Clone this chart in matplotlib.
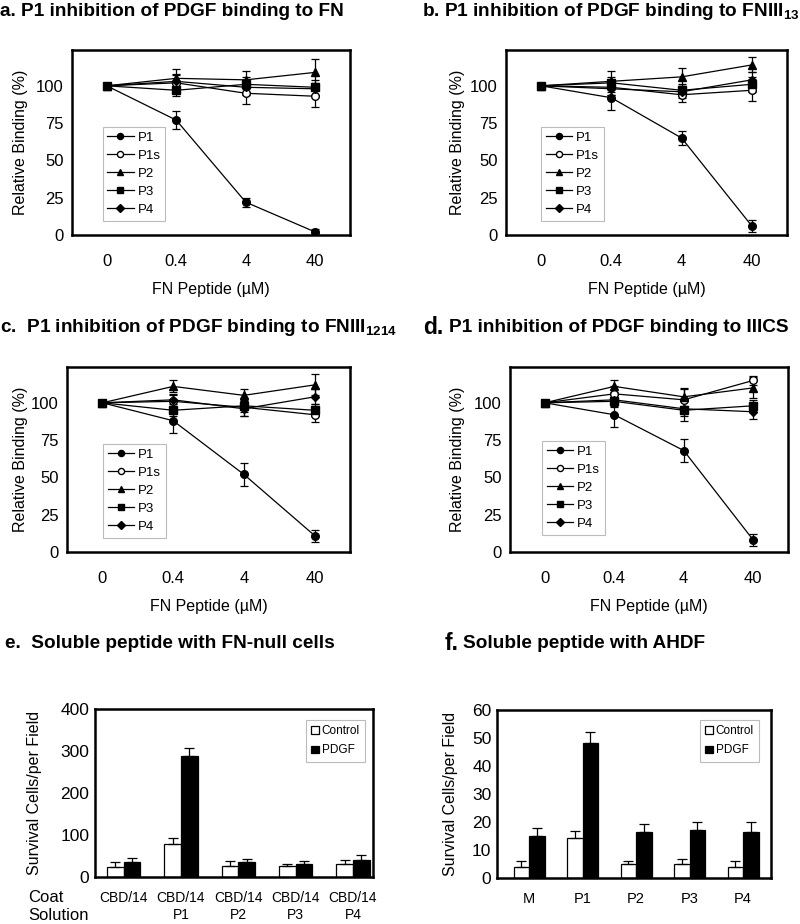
import matplotlib
matplotlib.use('Agg')
import matplotlib.pyplot as plt
import numpy as np

plt.rcParams['font.family'] = ['Liberation Sans', 'DejaVu Sans']
plt.rcParams['mathtext.fontset'] = 'custom'
plt.rcParams['mathtext.rm'] = 'Liberation Sans'
plt.rcParams['mathtext.bf'] = 'Liberation Sans:bold'

# x categories for the binding panels
doses = ['0', '0.4', '4', '40']
series = ['P1', 'P1s', 'P2', 'P3', 'P4']

# panel a: binding to FN
a_mean = {'P1': [100, 77, 22, 2], 'P1s': [100, 102, 95, 93], 'P2': [100, 105, 104, 109],
          'P3': [100, 97, 101, 99], 'P4': [100, 103, 99, 98]}
a_err = {'P1': [0, 6, 3, 2], 'P1s': [0, 5, 7, 7], 'P2': [0, 6, 6, 9],
         'P3': [0, 4, 5, 5], 'P4': [0, 5, 5, 4]}
# panel b: binding to FNIII13
b_mean = {'P1': [100, 92, 65, 6], 'P1s': [100, 99, 94, 97], 'P2': [100, 103, 106, 114],
          'P3': [100, 102, 97, 101], 'P4': [100, 98, 96, 104]}
b_err = {'P1': [0, 8, 5, 4], 'P1s': [0, 5, 5, 7], 'P2': [0, 7, 6, 5],
         'P3': [0, 4, 4, 5], 'P4': [0, 4, 4, 5]}
# panel c: binding to FNIII1214
c_mean = {'P1': [100, 88, 52, 11], 'P1s': [100, 101, 97, 92], 'P2': [100, 111, 105, 112],
          'P3': [100, 95, 98, 95], 'P4': [100, 102, 96, 104]}
c_err = {'P1': [0, 8, 7.5, 4], 'P1s': [0, 4, 6, 5], 'P2': [0, 4, 4, 7],
         'P3': [0, 4, 4, 4], 'P4': [0, 4, 5, 5]}
# panel d: binding to IIICS
d_mean = {'P1': [100, 92, 68, 8], 'P1s': [100, 106, 102, 115], 'P2': [100, 111, 104, 110],
          'P3': [100, 101, 95, 98], 'P4': [100, 102, 96, 94]}
d_err = {'P1': [0, 8, 7.5, 4], 'P1s': [0, 5, 7, 3], 'P2': [0, 4, 6, 7],
         'P3': [0, 4, 7, 4], 'P4': [0, 4, 5, 5]}

# panel e: FN-null cells
e_groups = ['CBD/14', 'CBD/14\nP1', 'CBD/14\nP2', 'CBD/14\nP3', 'CBD/14\nP4']
e_control = [25, 78, 27, 26, 30]
e_control_err = [10, 16, 10, 6, 10]
e_pdgf = [35, 287, 35, 30, 40]
e_pdgf_err = [10, 20, 7, 8, 13]

# panel f: AHDF
f_groups = ['M', 'P1', 'P2', 'P3', 'P4']
f_control = [3.9, 14.3, 5, 5, 3.9]
f_control_err = [2.3, 2.6, 1.2, 1.9, 2.3]
f_pdgf = [15, 48.3, 16.3, 17, 16.3]
f_pdgf_err = [3, 3.7, 2.9, 3, 3.7]

W, H = 800, 924
fig = plt.figure(figsize=(W / 100, H / 100), dpi=100)


def box(x0, y0, x1, y1):
    # pixel box (top-left origin) -> figure fraction
    return [x0 / W, 1 - y1 / H, (x1 - x0) / W, (y1 - y0) / H]


styles = {'P1': dict(marker='o', mfc='black'),
          'P1s': dict(marker='o', mfc='white'),
          'P2': dict(marker='^', mfc='black'),
          'P3': dict(marker='s', mfc='black'),
          'P4': dict(marker='D', mfc='black', ms=4.5)}


def binding_panel(rect, means, errs, leg_xy, ylab_x):
    ax = fig.add_axes(rect)
    x = np.arange(len(doses))
    for s in series:
        st = dict(ms=5.5, mec='black')
        st.update(styles[s])
        ax.errorbar(x, means[s], yerr=errs[s], color='black', lw=0.9,
                    elinewidth=0.9, capsize=3, capthick=0.9, label=s, **st)
    ax.set_xlim(-0.5, 3.5)
    ax.set_ylim(0, 124)
    ax.set_yticks([0, 25, 50, 75, 100])
    ax.set_xticks(x)
    ax.set_xticklabels(doses)
    ax.tick_params(axis='both', length=0, labelsize=12)
    ax.tick_params(axis='x', pad=14)
    ax.tick_params(axis='y', pad=6)
    for sp in ax.spines.values():
        sp.set_linewidth(1.8)
    ax.set_xlabel('FN Peptide (µM)', fontsize=11.5, labelpad=9)
    ax.set_ylabel('Relative Binding (%)', fontsize=11.5)
    ax.yaxis.set_label_coords(ylab_x, 0.5)
    handles, labels = ax.get_legend_handles_labels()
    handles = [h[0] for h in handles]
    leg = ax.legend(handles, labels, loc='upper left', bbox_to_anchor=leg_xy,
                    fontsize=9.5, frameon=True, fancybox=False, handlelength=2.0,
                    labelspacing=0.44, borderpad=0.35, handletextpad=0.3,
                    borderaxespad=0, markerscale=0.8)
    leg.get_frame().set_edgecolor('#aaaaaa')
    leg.get_frame().set_linewidth(0.8)
    return ax


binding_panel(box(72, 50, 350, 235), a_mean, a_err, (0.11, 0.584), -0.158)
binding_panel(box(506, 50, 787, 235), b_mean, b_err, (0.125, 0.584), -0.146)
binding_panel(box(67, 367, 350, 552), c_mean, c_err, (0.127, 0.584), -0.138)
binding_panel(box(510, 367, 788, 552), d_mean, d_err, (0.115, 0.6), -0.162)


def bar_panel(rect, groups, ctrl, ctrl_err, pdgf, pdgf_err, ymax, yticks, xlim,
              tick_fs, tick_family, ylab_x, leg_xy):
    ax = fig.add_axes(rect)
    x = np.arange(len(groups))
    w = 0.29
    ax.bar(x - w / 2, ctrl, w, color='white', edgecolor='black', lw=0.9, label='Control',
           yerr=[np.zeros(len(ctrl)), ctrl_err], error_kw=dict(lw=0.9, capsize=3.5, capthick=0.9))
    ax.bar(x + w / 2, pdgf, w, color='black', edgecolor='black', lw=0.9, label='PDGF',
           yerr=[np.zeros(len(pdgf)), pdgf_err], error_kw=dict(lw=0.9, capsize=3.5, capthick=0.9))
    ax.set_xlim(*xlim)
    ax.set_ylim(0, ymax)
    ax.set_yticks(yticks)
    ax.set_xticks(x)
    ax.set_xticklabels(groups, fontsize=tick_fs, linespacing=1.25, family=tick_family)
    ax.tick_params(axis='both', length=0)
    ax.tick_params(axis='y', labelsize=12.5, pad=4)
    ax.tick_params(axis='x', pad=10)
    for sp in ax.spines.values():
        sp.set_linewidth(1.8)
    ax.set_ylabel('Survival Cells/per Field', fontsize=11.5)
    ax.yaxis.set_label_coords(ylab_x, 0.5)
    leg = ax.legend(loc='upper right', bbox_to_anchor=leg_xy, fontsize=8.5,
                    frameon=True, fancybox=False, handlelength=0.6, handleheight=0.6,
                    handletextpad=0.25, labelspacing=0.6, borderpad=0.45, borderaxespad=0)
    leg.get_frame().set_edgecolor('#aaaaaa')
    leg.get_frame().set_linewidth(0.8)
    return ax


bar_panel(box(95, 709, 373, 877), e_groups, e_control, e_control_err, e_pdgf, e_pdgf_err,
          400, [0, 100, 200, 300, 400], (-0.5, 4.35), 10,
          ['Liberation Sans Narrow', 'Liberation Sans'], -0.19, (0.971, 0.934))
bar_panel(box(497, 710, 771, 878), f_groups, f_control, f_control_err, f_pdgf, f_pdgf_err,
          60, [0, 10, 20, 30, 40, 50, 60], (-0.6, 4.52), 10.5,
          ['Liberation Sans'], -0.142, (0.956, 0.94))

fig.text(28 / W, 1 - 898 / H, 'Coat', fontsize=12, ha='left', va='center')
fig.text(28 / W, 1 - 916 / H, 'Solution', fontsize=12, ha='left', va='center')

# panel titles
tfs = 13.7
fig.text(0 / W, 1 - 11 / H, 'a. P1 inhibition of PDGF binding to FN', fontsize=tfs,
         fontweight='bold', va='center')
fig.text(422 / W, 1 - 11 / H, r'b. P1 inhibition of PDGF binding to FNIII$_{\mathbf{13}}$',
         fontsize=tfs, fontweight='bold', va='center')
fig.text(0 / W, 1 - 327 / H, r'c.  P1 inhibition of PDGF binding to FNIII$_{\mathbf{1214}}$',
         fontsize=tfs, fontweight='bold', va='center')
fig.text(423 / W, 1 - 327 / H, 'd.', fontsize=16.5, fontweight='bold', va='center')
fig.text(449 / W, 1 - 327 / H, 'P1 inhibition of PDGF binding to IIICS', fontsize=tfs,
         fontweight='bold', va='center')
fig.text(5 / W, 1 - 644 / H, 'e.  Soluble peptide with FN-null cells', fontsize=tfs,
         fontweight='bold', va='center')
fig.text(445 / W, 1 - 644 / H, 'f.', fontsize=16.5, fontweight='bold', va='center')
fig.text(463 / W, 1 - 644 / H, 'Soluble peptide with AHDF', fontsize=tfs,
         fontweight='bold', va='center')

fig.savefig('out.png', dpi=100)
